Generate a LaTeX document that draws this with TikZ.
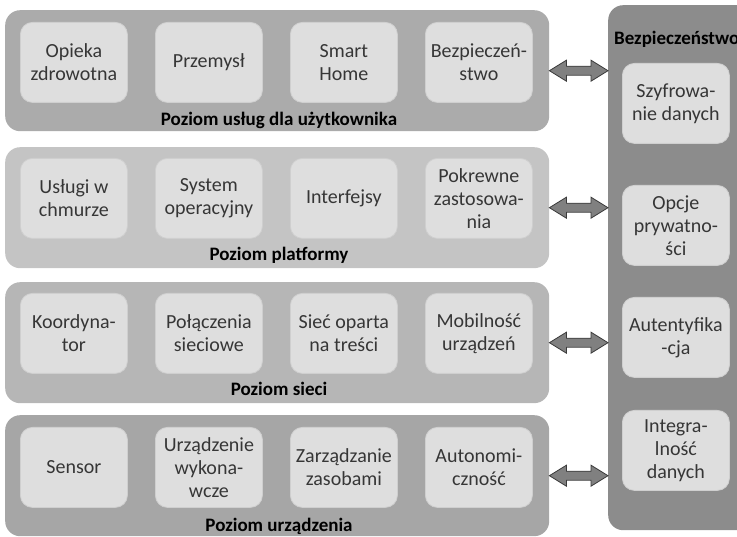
\documentclass[tikz,border=0pt]{standalone}
\usepackage{fontspec}
\setmainfont{Carlito}
\usetikzlibrary{calc}
\definecolor{txt}{HTML}{363636}
\definecolor{laya}{HTML}{ABABAB}
\definecolor{layb}{HTML}{C4C4C4}
\definecolor{layc}{HTML}{B6B6B6}
\definecolor{layd}{HTML}{A6A6A6}
\definecolor{panel}{HTML}{8C8C8C}
\definecolor{boxfill}{HTML}{DEDEDE}
\definecolor{boxline}{HTML}{CFCFCF}
\definecolor{arrfill}{HTML}{808080}
\definecolor{arrline}{HTML}{3A3A3A}
\tikzset{
  layer/.style={rectangle, rounded corners=15pt, anchor=north west, minimum width=544pt, minimum height=121pt, inner sep=0pt},
  itembox/.style={rectangle, rounded corners=12pt, fill=boxfill, draw=boxline, line width=0.8pt, anchor=north west, minimum width=107pt, minimum height=80pt, inner sep=1pt, align=center, text=txt, font=\fontsize{20}{23}\selectfont},
  laylabel/.style={font=\bfseries\fontsize{19}{22}\selectfont, text=black, inner sep=0pt},
  dblarr/.style={fill=arrfill, draw=arrline, line width=0.8pt, line join=miter}
}
\newcommand{\dblconn}[2]{%
  \draw[dblarr] let \p1=(#1.east), \p2=(#2.west), \n1={\x2-\x1-34pt} in
    (\x1,\y1) -- ++(17,-10.5) -- ++(0,6) -- ++(\n1,0) -- ++(0,-6) -- ++(17,10.5)
    -- ++(-17,10.5) -- ++(0,-6) -- ++(-\n1,0) -- ++(0,6) -- cycle;}
\begin{document}
\begin{tikzpicture}[x=1pt,y=-1pt]
\useasboundingbox (0,0) rectangle (737,537);
% security panel
\node[rectangle, rounded corners=15pt, fill=panel, anchor=north west, minimum width=150pt, minimum height=525pt, inner sep=0pt] (sec) at (608,5) {};
\node[laylabel, anchor=west] (sectitle) at (614,39) {Bezpieczeństwo};
\node[itembox] (s1) at (622,63) {Szyfrowa-\\nie danych};
\node[itembox] (s2) at (622,185) {Opcje\\prywatno-\\ści};
\node[itembox] (s3) at (622,297) {Autentyfika\\-cja};
\node[itembox] (s4) at (622,410) {Integra-\\lność\\danych};
% layers
\node[layer, fill=laya] (l1) at (5,10) {};
\node[layer, fill=layb] (l2) at (5,147) {};
\node[layer, fill=layc] (l3) at (5,282) {};
\node[layer, fill=layd] (l4) at (5,415) {};
% layer 1
\node[itembox] (a1) at (20,22) {Opieka\\zdrowotna};
\node[itembox] (a2) at (155,22) {Przemysł};
\node[itembox] (a3) at (290,22) {Smart\\Home};
\node[itembox] (a4) at (425,22) {Bezpieczeń-\\stwo};
\node[laylabel] (t1) at (279,120) {Poziom usług dla użytkownika};
% layer 2
\node[itembox] (b1) at (20,158) {Usługi w\\chmurze};
\node[itembox] (b2) at (155,158) {System\\operacyjny};
\node[itembox] (b3) at (290,158) {Interfejsy};
\node[itembox] (b4) at (425,158) {Pokrewne\\zastosowa-\\nia};
\node[laylabel] (t2) at (279,255) {Poziom platformy};
% layer 3
\node[itembox] (c1) at (20,293) {Koordyna-\\tor};
\node[itembox] (c2) at (155,293) {Połączenia\\sieciowe};
\node[itembox] (c3) at (290,293) {Sieć oparta\\na treści};
\node[itembox] (c4) at (425,293) {Mobilność\\urządzeń};
\node[laylabel] (t3) at (279,389) {Poziom sieci};
% layer 4
\node[itembox] (d1) at (20,427) {Sensor};
\node[itembox] (d2) at (155,427) {Urządzenie\\wykona-\\wcze};
\node[itembox] (d3) at (290,427) {Zarządzanie\\zasobami};
\node[itembox] (d4) at (425,427) {Autonomi-\\czność};
\node[laylabel] (t4) at (279,526) {Poziom urządzenia};
% connectors
\dblconn{l1}{sec}
\dblconn{l2}{sec}
\dblconn{l3}{sec}
\dblconn{l4}{sec}
\end{tikzpicture}
\end{document}
